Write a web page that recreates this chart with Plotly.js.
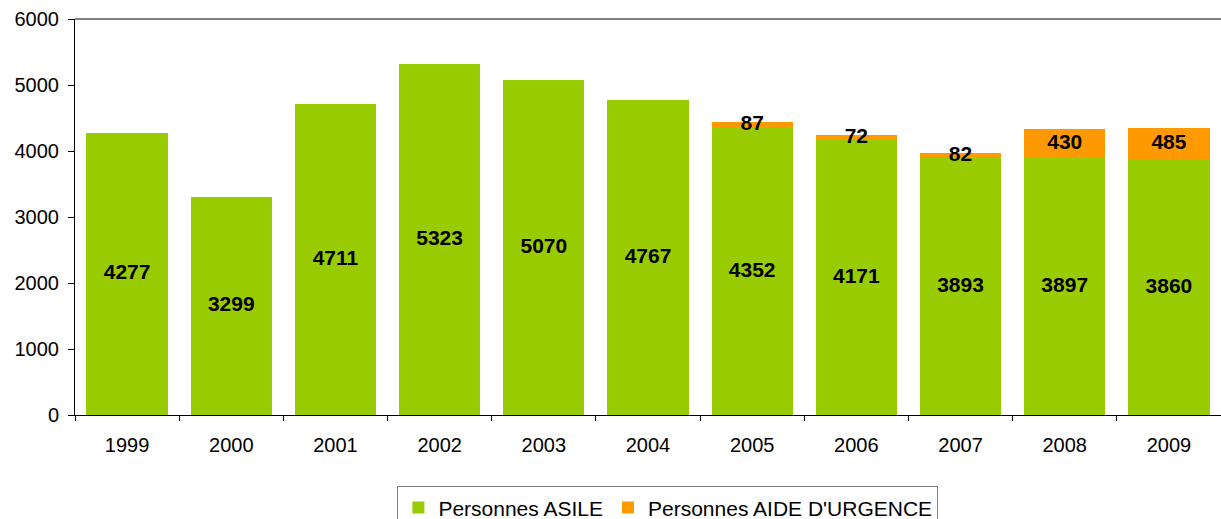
<!DOCTYPE html>
<html>
<head>
<meta charset="utf-8">
<script src="https://cdn.plot.ly/plotly-3.0.1.min.js"></script>
<style>html,body{margin:0;padding:0;background:#fff;}#chart{width:1221px;height:519px;}</style>
</head>
<body>
<div id="chart"></div>
<script>
const years = ["1999","2000","2001","2002","2003","2004","2005","2006","2007","2008","2009"];
const asile = [4277,3299,4711,5323,5070,4767,4352,4171,3893,3897,3860];
const urgence = [null,null,null,null,null,null,87,72,82,430,485];
const seriesNames = ["Personnes ASILE","Personnes AIDE D'URGENCE"];

const green = "#99CC00", orange = "#FF9900";
const font = "Liberation Sans, Arial, sans-serif";

const asileMid = asile.map(v => v/2);
const urgYears = [], urgMid = [], urgText = [];
urgence.forEach((u,i) => { if (u != null) { urgYears.push(years[i]); urgMid.push(asile[i] + u/2); urgText.push(String(u)); } });

const traces = [
  {type:"bar", name:seriesNames[0], x:years, y:asile, marker:{color:green}, hoverinfo:"none"},
  {type:"bar", name:seriesNames[1], x:years, y:urgence, marker:{color:orange}, hoverinfo:"none"},
  {type:"scatter", mode:"text", x:years, y:asileMid, text:asile.map(String), showlegend:false,
   textfont:{family:font, size:21, color:"#000", weight:"bold"}, hoverinfo:"none", cliponaxis:false},
  {type:"scatter", mode:"text", x:urgYears, y:urgMid, text:urgText, showlegend:false,
   textfont:{family:font, size:21, color:"#000", weight:"bold"}, hoverinfo:"none", cliponaxis:false}
];

const layout = {
  width:1221, height:519,
  margin:{l:75, r:0, t:19, b:104},
  paper_bgcolor:"#fff", plot_bgcolor:"#fff",
  barmode:"stack", bargap:0.22,
  font:{family:font, size:20, color:"#000"},
  xaxis:{type:"category", range:[-0.5,10.5], autorange:false, showline:true, linecolor:"#000", linewidth:1,
         ticks:"outside", tickson:"boundaries", ticklen:5, tickcolor:"#000", showgrid:false, zeroline:false,
         tickfont:{size:20}, ticklabelstandoff:12},
  yaxis:{range:[0,6000], autorange:false, dtick:1000, showline:true, linecolor:"#000", linewidth:1, ticks:"outside", ticklen:6,
         tickcolor:"#000", showgrid:false, zeroline:false, tickfont:{size:20}, ticklabelstandoff:5},
  shapes:[{type:"line", xref:"paper", yref:"paper", x0:0, x1:1, y0:1, y1:1, line:{color:"#808080", width:2}}],
  showlegend:true,
  legend:{orientation:"h", xref:"container", yref:"container", x:0.547, xanchor:"center", y:0.063, yanchor:"top",
          bordercolor:"#808080", borderwidth:1, font:{size:21}, traceorder:"normal", itemwidth:30, tracegroupgap:0}
};

Plotly.newPlot("chart", traces, layout, {staticPlot:true});
</script>
</body>
</html>
